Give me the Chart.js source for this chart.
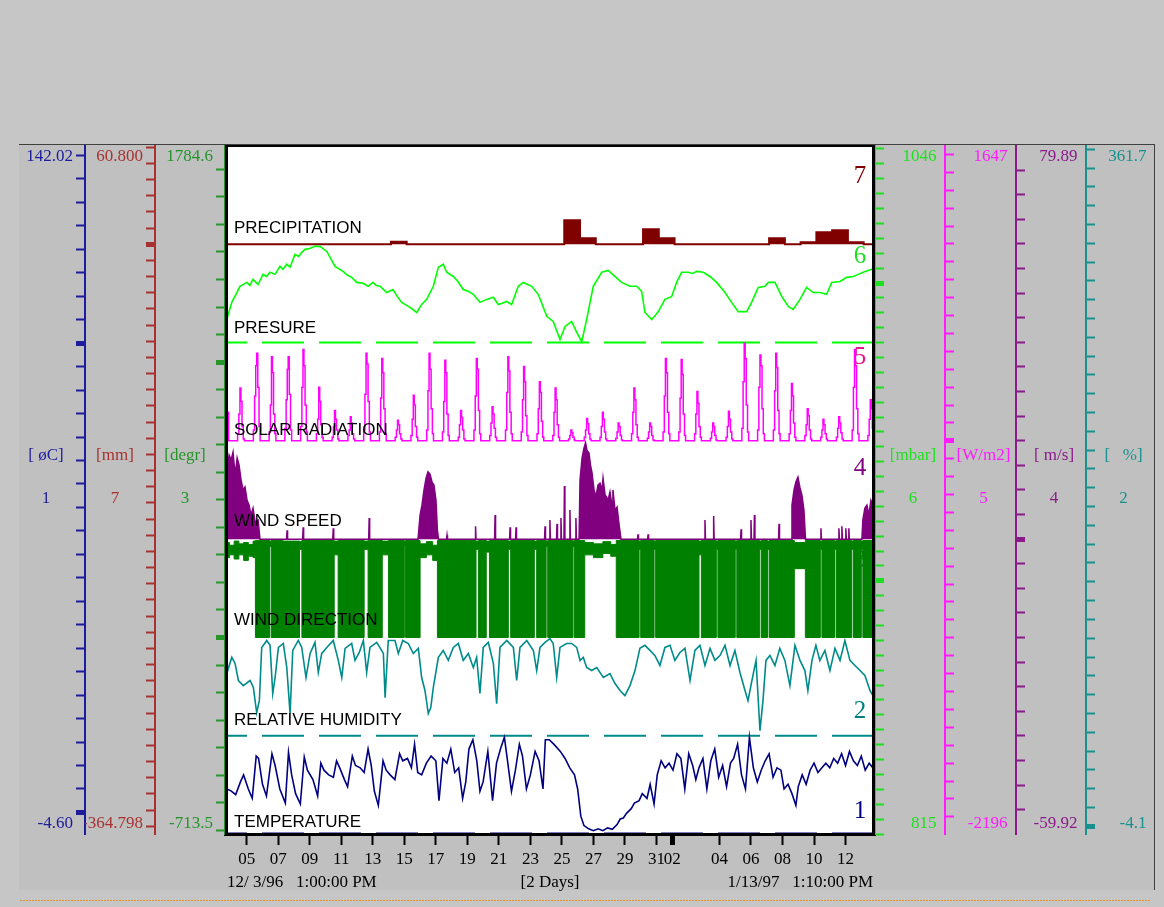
<!DOCTYPE html>
<html>
<head>
<meta charset="utf-8">
<title>Weather station 12/3/96 - 1/13/97</title>
<style>
html,body{margin:0;padding:0;background:#c0c0c0;}
#wrap{position:relative;width:1164px;height:907px;}
canvas{display:block;}
</style>
<script src="https://cdn.jsdelivr.net/npm/chart.js"></script>
</head>
<body>
<div id="wrap"><canvas id="c" width="1164" height="907"></canvas></div>
<script>
// ---- time axis: day numbers counted from 1 Dec 1996 (1 Jan 1997 = day 32)
const xTickDays   = [5,7,9,11,13,15,17,19,21,23,25,27,29,31,32,35,37,39,41,43];
const xTickLabels = ['05','07','09','11','13','15','17','19','21','23','25','27','29','31','02','04','06','08','10','12'];
const footerTexts = ['12/ 3/96   1:00:00 PM', '[2 Days]', '1/13/97   1:10:00 PM'];

// ---- channels, numbered 1..7 from the bottom band up
const bandTitles  = ['TEMPERATURE','RELATIVE HUMIDITY','WIND DIRECTION','WIND SPEED','SOLAR RADIATION','PRESURE','PRECIPITATION'];
const bandNumbers = ['1','2','3','4','5','6','7'];
const axisIds     = ['yTemp','yHum','yDir','ySpeed','ySolar','yPres','yPrec'];
const axisMin     = [-4.60, -4.1, -713.5, -59.92, -2196, 815, -364.798];
const axisMax     = [142.02, 361.7, 1784.6, 79.89, 1647, 1046, 60.800];
const axisTopText = ['142.02','361.7','1784.6','79.89','1647','1046','60.800'];
const axisBottomText = ['-4.60','-4.1','-713.5','-59.92','-2196','815','-364.798'];
const axisUnits   = ['[ øC]','[   %]','[degr]','[ m/s]','[W/m2]','[mbar]','[mm]'];
const axisStep    = [5, 10, 100, 5, 100, 5, 10];
const axisBold    = [[0,100],[0],[0,1000],[0],[0],[900,1000],[0]];

// ---- 7: precipitation, daily totals [mm]
const precipDays = [3.62,14.15,15.15,25.15,26.15,27.15,30.15,31.15,32.15,38.15,39.15,40.15,41.15,42.15,43.15,44.15,44.87];
const precipMm   = [0,1.5,0,14.9,3.7,0,9.3,3.7,0,3.7,0,1.2,7.4,8.7,1.2,0,0];

// ---- 6: pressure [mbar]
const pressureDays = [
 3.62,3.73,4.05,4.3,4.57,5.0,5.2,5.40,5.72,6.03,
 6.25,6.48,6.80,7.11,7.3,7.54,7.75,8.06,8.3,8.49,
 8.70,9.0,9.33,9.65,10.08,10.35,10.60,11.11,11.4,11.66,
 11.98,12.38,12.70,13.01,13.2,13.46,13.88,14.28,14.55,14.83,
 15.36,15.79,16.10,16.42,16.84,17.16,17.47,17.69,18.11,18.4,
 18.74,19.05,19.38,19.80,20.23,20.65,20.96,21.2,21.50,21.81,
 22.23,22.55,23.08,23.50,24.04,24.45,24.88,25.20,25.62,25.94,
 26.26,26.57,26.99,27.53,27.94,28.36,28.79,29.32,29.75,30.06,
 30.27,30.70,31.12,31.54,31.97,32.28,32.60,33.02,33.3,33.55,
 33.97,34.40,34.82,35.35,35.77,36.19,36.73,37.04,37.46,37.89,
 38.10,38.52,38.95,39.37,39.68,40.11,40.53,40.95,41.37,41.80,
 42.12,42.65,43.07,43.49,43.8,44.12,44.66,44.87];
const pressureMbar = [
 986.5,987.7,993.5,996.0,998.9,1000.2,999.2,1001.2,999.5,1002.9,
 1002.2,1003.6,1002.9,1005.6,1004.6,1006.3,1005.3,1009.6,1008.9,1010.3,
 1011.3,1011.6,1012.3,1012.3,1010.6,1008.0,1005.6,1003.9,1002.6,1001.9,
 1000.2,999.9,998.9,1000.2,999.2,998.9,996.8,997.8,995.5,993.5,
 991.8,990.1,992.8,994.5,998.9,1005.3,1006.3,1003.6,1002.2,1000.5,
 997.8,997.2,996.2,993.5,994.5,995.2,992.8,993.2,993.8,992.8,
 998.9,1000.2,998.9,996.2,988.8,987.1,981.0,985.4,987.1,983.4,
 980.3,987.7,998.9,1003.6,1004.2,1002.2,1000.2,998.9,998.9,997.2,
 990.1,987.7,990.4,994.5,995.5,1000.2,1003.6,1003.6,1003.2,1003.9,
 1003.6,1002.2,1000.2,996.8,993.5,990.4,990.4,993.5,998.5,998.9,
 1000.2,1000.2,995.5,992.1,991.1,994.5,998.5,996.8,996.8,996.2,
 1000.2,1000.5,1001.9,1002.2,1002.9,1003.6,1004.6,1005.0];

// ---- 5: solar radiation [W/m2], six readings around each midday
const solarDates = [3,4,5,6,7,8,9,10,11,12,13,14,15,16,17,18,19,20,21,22,23,24,25,26,27,28,29,30,31,32,33,34,35,36,37,38,39,40,41,42,43,44];
const solarFractions = [0.42,0.50,0.57,0.63,0.70,0.78];
const solarWm2 = [
 [80,180,260,200,140,160],[40,150,295,220,80,10],[60,250,420,490,300,80],[50,200,470,380,150,40],
 [70,230,400,470,260,60],[80,300,510,420,200,50],[40,120,300,220,90,20],[20,80,170,120,60,10],
 [30,60,135,100,40,10],[60,260,490,430,220,50],[50,240,460,380,180,40],[20,60,115,90,40,10],
 [30,120,255,200,80,20],[60,280,490,400,180,40],[50,220,450,380,150,30],[20,90,170,130,60,10],
 [60,250,460,400,170,40],[30,100,190,150,70,20],[60,270,470,390,160,40],[50,230,415,330,140,30],
 [40,180,330,270,110,20],[30,160,295,230,90,20],[10,30,60,45,20,5],[20,60,125,95,40,10],
 [20,80,160,120,50,10],[15,50,100,80,30,5],[40,160,295,230,90,20],[15,50,100,80,30,5],
 [50,250,460,380,160,40],[50,240,455,370,150,30],[40,150,275,210,80,20],[15,50,100,80,30,5],
 [20,80,165,120,50,10],[70,330,545,460,200,50],[60,300,480,420,180,40],[60,280,490,410,170,40],
 [40,170,320,250,100,20],[30,90,180,140,60,10],[20,60,120,90,40,10],[20,70,135,100,45,10],
 [60,300,510,420,180,40],[30,120,230,180,70,20]];

// ---- 4: wind speed [m/s]
const windDays = [
 3.62,3.75,3.88,4.01,4.13,4.26,4.39,4.51,4.64,4.77,
 4.89,5.02,5.15,5.27,5.40,5.53,5.72,5.84,7.53,7.56,
 7.59,8.55,8.58,8.61,10.46,10.49,10.52,12.74,12.77,12.80,
 15.87,16.0,16.12,16.25,16.38,16.5,16.63,16.76,16.88,17.01,
 17.1,17.17,17.68,17.71,17.74,19.49,19.52,19.55,20.73,20.76,
 20.79,21.68,21.71,21.74,22.06,22.09,22.12,23.9,23.93,23.96,
 24.21,24.24,24.27,24.66,24.69,24.72,24.91,24.94,24.97,25.13,
 25.16,25.19,25.48,25.51,25.54,25.86,25.89,25.92,26.09,26.15,
 26.28,26.4,26.5,26.59,26.72,26.81,26.91,27.04,27.16,27.29,
 27.42,27.55,27.61,27.74,27.83,27.93,28.05,28.18,28.24,28.37,
 28.5,28.63,28.75,29.8,29.83,29.86,30.44,30.47,30.5,34.05,
 34.08,34.11,34.6,34.63,34.66,36.34,36.37,36.4,36.97,37.0,
 37.03,37.19,37.22,37.25,38.75,38.78,38.81,39.54,39.6,39.73,
 39.85,39.98,40.11,40.23,40.36,40.46,41.41,41.44,41.47,42.55,
 42.58,42.61,42.74,42.77,42.8,42.99,43.02,43.05,43.18,43.21,
 43.24,44.04,44.1,44.23,44.36,44.48,44.61,44.74,44.87];
const windMs = [
 14.0,14.1,17.1,16.1,17.7,13.0,16.5,15.1,12.0,10.0,
 10.6,7.9,6.9,4.9,6.3,3.5,3.9,0,0,1.8,
 0,0,2.4,0,0,2.2,0,0,4.3,0,
 0,4.9,6.9,10.0,12.4,13.7,13.2,11.6,11.0,7.9,
 1.8,0,0,0.8,0,0,2.6,0,0,4.9,
 0,0,2.4,0,0,2.4,0,0,2.6,0,
 0,3.9,0,0,3.1,0,0,4.3,0,0,
 10.8,0,0,5.9,0,0,4.3,0,0,12.0,
 16.5,18.5,19.6,18.1,17.5,15.1,13.5,10.0,8.6,11.0,
 11.4,10.0,12.4,9.0,8.6,7.9,9.6,6.9,10.0,5.9,
 6.5,2.9,0,0,1.0,0,0,1.0,0,0,
 3.9,0,0,4.7,0,0,2.0,0,0,3.9,
 0,0,4.9,0,0,3.1,0,0,6.9,10.0,
 11.6,12.6,10.4,9.0,5.9,0,0,2.2,0,0,
 2.2,0,0,2.6,0,0,2.2,0,0,2.2,
 0,0,3.9,6.3,6.9,4.9,7.9,6.9,6.5];

// ---- 3: wind direction [degr], swept range per interval (upper / lower)
const dirDays = [
 3.62,3.9,4.2,4.5,4.8,5.1,5.4,5.55,6.45,6.55,
 7.3,8.35,8.5,10.55,10.8,12.45,12.7,13.6,14.0,15.0,
 15.08,16.0,16.4,16.8,17.1,19.55,19.7,20.2,20.4,21.6,
 21.75,23.25,23.4,24.0,24.1,25.7,25.78,26.45,27.0,27.6,
 28.1,28.45,29.9,30.0,30.85,30.95,33.7,33.85,34.8,34.9,
 36.0,36.1,37.55,37.65,38.05,38.15,39.75,40.45,41.4,41.5,
 42.3,42.4,43.4,43.5,44.0,44.1,44.87];
const dirHigh = [
 345,335,350,340,345,338,350,352,350,352,
 350,348,352,350,352,350,352,350,352,350,
 352,340,348,335,352,350,352,350,352,350,
 352,350,352,350,352,350,352,345,340,348,
 338,352,350,352,350,352,350,352,350,352,
 350,352,350,352,350,352,345,352,350,352,
 350,352,350,352,350,352,352];
const dirLow = [
 290,300,285,300,280,295,290,0,330,0,
 0,320,0,300,0,320,0,300,0,330,
 0,290,300,280,0,320,0,310,0,320,
 0,320,0,330,0,330,0,300,290,305,
 295,0,320,0,320,0,300,0,320,0,
 320,0,320,0,320,0,250,0,320,0,
 320,0,320,0,320,0,0];

// ---- 2: relative humidity [%]
const humDays = [
 3.62,3.73,4.05,4.26,4.47,4.78,5.21,5.42,5.63,5.80,
 5.95,6.27,6.48,6.65,6.80,7.01,7.32,7.54,7.75,7.92,
 8.27,8.49,8.76,9.02,9.33,9.54,9.76,10.08,10.49,10.81,
 11.03,11.24,11.66,11.87,12.14,12.40,12.61,12.82,13.25,13.67,
 13.78,13.98,14.41,14.62,14.90,15.25,15.57,15.89,16.10,16.31,
 16.52,16.68,16.84,17.16,17.47,17.79,18.11,18.43,18.74,19.06,
 19.38,19.59,19.80,20.01,20.33,20.65,20.86,21.07,21.50,21.92,
 22.13,22.34,22.77,23.19,23.40,23.61,23.93,24.24,24.45,24.67,
 24.88,25.30,25.62,25.94,26.15,26.36,26.57,26.89,27.21,27.63,
 28.05,28.37,28.69,29.0,29.32,29.64,29.95,30.27,30.59,30.90,
 31.22,31.54,31.86,32.17,32.49,32.81,33.13,33.44,33.76,34.08,
 34.40,34.71,35.03,35.35,35.67,35.98,36.30,36.62,36.81,37.06,
 37.32,37.57,37.76,37.95,38.20,38.52,38.83,39.15,39.47,39.79,
 40.11,40.42,40.61,40.87,41.12,41.37,41.69,42.01,42.33,42.65,
 42.96,43.28,43.60,43.92,44.23,44.55,44.74,44.87];
const humPct = [
 80.0,81.2,89.8,86.6,77.5,74.8,77.5,73.8,60.4,66.8,
 95.1,98.8,96.2,70.6,79.1,95.1,97.2,84.4,59.9,93.5,
 98.8,95.1,79.1,91.9,97.8,81.8,91.9,95.1,98.8,88.2,
 79.1,94.6,97.2,88.2,92.4,98.8,81.8,95.1,97.8,91.9,
 68.4,98.8,98.8,91.9,98.8,97.2,91.9,94.6,79.1,72.2,
 59.9,63.1,73.8,89.8,93.5,88.2,95.1,97.2,88.2,91.9,
 84.4,89.8,70.6,95.1,97.8,86.6,65.2,95.1,98.8,95.1,
 77.5,95.1,98.8,93.5,82.8,95.1,97.8,99.8,97.2,79.1,
 95.1,97.2,97.2,95.1,88.2,89.8,84.4,82.8,84.4,79.1,
 81.2,75.9,72.2,69.5,74.8,82.8,94.6,96.2,93.5,90.8,
 85.5,95.1,96.2,88.2,92.4,94.6,77.5,93.5,96.2,85.5,
 94.6,88.2,90.8,96.2,85.5,93.5,81.8,72.2,66.8,77.5,
 88.2,50.8,66.8,88.2,90.8,85.5,94.6,88.2,74.8,96.2,
 88.2,82.8,72.2,88.2,96.2,88.2,93.5,82.8,94.6,88.2,
 98.8,88.2,85.5,82.8,80.2,72.2,69.5,69.0];

// ---- 1: air temperature [degC]
const tempDays = [
 3.62,3.75,4.0,4.3,4.6,4.8,5.1,5.35,5.6,5.75,
 6.0,6.25,6.6,6.8,7.1,7.45,7.65,7.85,8.1,8.4,
 8.65,8.85,9.2,9.5,9.7,9.9,10.2,10.5,10.7,10.9,
 11.2,11.4,11.7,11.9,12.2,12.45,12.7,12.9,13.1,13.35,
 13.65,13.85,14.1,14.4,14.7,14.9,15.2,15.45,15.65,15.85,
 16.1,16.4,16.7,17.0,17.2,17.45,17.7,17.95,18.2,18.45,
 18.7,18.9,19.1,19.35,19.6,19.8,20.0,20.3,20.6,20.85,
 21.1,21.35,21.55,21.8,22.05,22.3,22.5,22.75,23.0,23.3,
 23.55,23.8,23.95,24.2,24.5,24.9,25.2,25.5,25.8,26.0,
 26.2,26.4,26.7,27.0,27.3,27.6,27.9,28.2,28.5,28.7,
 28.9,29.1,29.4,29.6,29.9,30.1,30.4,30.6,30.85,31.05,
 31.3,31.55,31.8,32.05,32.3,32.55,32.8,33.05,33.3,33.5,
 33.7,33.95,34.2,34.45,34.7,34.95,35.2,35.45,35.7,35.9,
 36.15,36.4,36.65,36.9,37.15,37.4,37.65,37.9,38.15,38.4,
 38.65,38.9,39.1,39.35,39.6,39.85,40.0,40.25,40.5,40.75,
 41.0,41.25,41.5,41.75,42.0,42.25,42.5,42.75,43.0,43.25,
 43.5,43.75,44.0,44.25,44.5,44.74,44.87];
const tempC = [
 5.0,5.0,4.6,3.8,6.5,8.0,5.0,3.0,12.0,11.5,
 6.0,3.5,12.5,10.0,5.0,2.0,12.8,8.0,4.0,1.8,
 11.8,9.0,7.0,3.5,10.5,9.0,8.0,7.5,11.0,9.5,
 7.0,5.5,12.0,10.0,9.5,8.5,13.5,10.0,4.5,1.5,
 11.0,9.0,8.0,7.0,12.5,11.0,11.5,9.5,14.5,8.5,
 8.0,10.5,12.0,11.0,2.5,11.5,10.5,13.5,8.5,9.5,
 3.0,6.5,13.5,15.5,11.0,4.5,6.5,13.0,2.5,10.5,
 13.5,16.0,11.0,4.5,9.0,14.5,12.0,5.0,8.0,13.0,
 11.0,5.0,15.5,15.5,14.5,13.0,11.5,9.5,8.0,5.0,
 -0.8,-2.8,-3.5,-3.9,-3.5,-3.9,-3.3,-3.6,-2.6,-1.4,
 -1.2,-0.2,0.8,2.0,2.5,4.0,3.0,6.0,1.8,8.0,
 11.0,9.5,10.5,9.0,12.5,11.5,5.0,12.5,10.0,7.0,
 9.5,11.5,5.0,11.0,13.5,7.5,10.0,5.5,10.5,11.5,
 14.5,8.0,5.0,16.0,9.5,6.5,9.0,11.0,12.5,7.5,
 9.5,9.0,5.0,6.0,4.0,1.5,5.5,8.0,6.0,9.0,
 10.5,8.5,9.5,10.5,9.5,11.5,10.5,12.5,10.0,13.0,
 11.0,10.0,12.0,9.0,10.5,9.5,9.5];

// ================= drawing =================
const X_MIN = 3.62, X_MAX = 44.87;
const serif = 'Liberation Serif';
const sans = 'Liberation Sans';

// per-axis look: side, stacking weight, box width, colour
const axisLook = {
  yTemp:  {side:'left',  weight:2, width:68, color:'#1c1c9c'},
  yPrec:  {side:'left',  weight:1, width:70, color:'#a83232'},
  yDir:   {side:'left',  weight:0, width:70, color:'#24962a'},
  yPres:  {side:'right', weight:0, width:70, color:'#1ee01e'},
  ySolar: {side:'right', weight:1, width:71, color:'#ff1cff'},
  ySpeed: {side:'right', weight:2, width:70, color:'#8a1a8a'},
  yHum:   {side:'right', weight:3, width:69, color:'#17928f'}
};
const numberColors = ['#000080','#008080','#008000','#800080','#e8188c','#22dd22','#800000'];

const zip = (xs, ys) => xs.map((x, i) => ({x, y: ys[i]}));

function buildYAxis(i) {
  const id = axisIds[i], look = axisLook[id];
  const min = axisMin[i], max = axisMax[i], step = axisStep[i], span = max - min;
  const pad = look.side === 'right' ? '  ' : '';
  return {
    type: 'linear', position: look.side, weight: look.weight, min, max,
    afterBuildTicks(scale) {
      const ticks = [
        {value: max - span * 0.016, text: axisTopText[i] + pad, kind: 'label'},
        {value: min + span * 0.0145, text: axisBottomText[i] + pad, kind: 'label'}
      ];
      for (let k = Math.ceil(min / step); k * step <= max; k++) {
        const v = k * step;
        ticks.push({value: v, text: '', kind: axisBold[i].includes(v) ? 'bold' : 'minor'});
      }
      ticks.sort((a, b) => a.value - b.value);
      scale.ticks = ticks;
    },
    afterFit(scale) { scale.width = look.width; },
    ticks: {
      autoSkip: false, color: look.color, padding: 3,
      crossAlign: look.side === 'left' ? 'near' : 'far',
      font: {family: serif, size: 17},
      callback: (v, idx, ticks) => ticks[idx].text
    },
    grid: {
      drawOnChartArea: false, tickLength: 9,
      tickWidth: c => (c.tick && c.tick.kind === 'bold') ? 5 : 2,
      tickColor: c => (c.tick && c.tick.kind === 'label') ? 'rgba(0,0,0,0)' : look.color
    },
    border: {color: look.color, width: 2}
  };
}

const scales = {
  x: {
    type: 'linear', position: 'bottom', min: X_MIN, max: X_MAX,
    afterBuildTicks(scale) {
      scale.ticks = xTickDays.map((d, i) => ({value: d, text: xTickLabels[i], bold: d === 32}));
    },
    afterFit(scale) { scale.height = 40; },
    ticks: {
      autoSkip: false, maxRotation: 0, minRotation: 0, color: '#000', padding: 4,
      font: {family: serif, size: 17},
      callback: (v, idx, ticks) => ticks[idx].text
    },
    grid: {
      drawOnChartArea: false, tickLength: 11, tickColor: '#000',
      tickWidth: c => (c.tick && c.tick.bold) ? 5 : 2
    },
    border: {color: '#000', width: 3}
  }
};
axisIds.forEach((id, i) => { scales[id] = buildYAxis(i); });

// solar readings placed at their time of day, zero at night
const solarPoints = [];
solarDates.forEach((d, i) => {
  solarPoints.push({x: d + 0.36, y: 0});
  solarFractions.forEach((f, j) => solarPoints.push({x: d + f, y: solarWm2[i][j]}));
  solarPoints.push({x: d + 0.85, y: 0});
});
solarPoints.push({x: X_MAX, y: 0});

// lower edge of a channel's band on its own axis
const bandFloor = (axisIndex) => {
  const span = axisMax[axisIndex] - axisMin[axisIndex];
  return axisMin[axisIndex] + span * axisIndex / 7;
};
const floorLine = (axisIndex) => [{x: X_MIN, y: bandFloor(axisIndex)}, {x: X_MAX, y: bandFloor(axisIndex)}];

const datasets = [
  {label: 'Temperature', yAxisID: 'yTemp', data: zip(tempDays, tempC), borderColor: '#000080', borderWidth: 1.6},
  {label: 'Temperature base', yAxisID: 'yTemp', data: floorLine(0),
   borderColor: '#000080', borderWidth: 3, borderDash: [42, 15], borderDashOffset: 20},
  {label: 'Relative humidity', yAxisID: 'yHum', data: zip(humDays, humPct), borderColor: '#008b8b', borderWidth: 1.6},
  {label: 'Humidity base', yAxisID: 'yHum', data: floorLine(1),
   borderColor: '#008b8b', borderWidth: 2, borderDash: [42, 15], borderDashOffset: 20},
  {label: 'Wind direction', yAxisID: 'yDir', data: zip(dirDays, dirHigh), stepped: true,
   borderColor: '#008000', backgroundColor: '#008000', borderWidth: 1, fill: '+1'},
  {label: 'Wind direction low', yAxisID: 'yDir', data: zip(dirDays, dirLow), stepped: true,
   borderColor: '#008000', borderWidth: 1},
  {label: 'Wind speed', yAxisID: 'ySpeed', data: zip(windDays, windMs),
   borderColor: '#800080', backgroundColor: '#800080', borderWidth: 1.5, fill: {value: 0}},
  {label: 'Solar radiation', yAxisID: 'ySolar', data: solarPoints, stepped: true,
   borderColor: '#ff00ff', borderWidth: 1.5},
  {label: 'Pressure', yAxisID: 'yPres', data: zip(pressureDays, pressureMbar), borderColor: '#00ff00', borderWidth: 1.6},
  {label: 'Pressure base', yAxisID: 'yPres', data: floorLine(5),
   borderColor: '#00ff00', borderWidth: 2, borderDash: [42, 15], borderDashOffset: 20},
  {label: 'Precipitation', yAxisID: 'yPrec', data: zip(precipDays, precipMm), stepped: true,
   borderColor: '#800000', backgroundColor: '#800000', borderWidth: 2, fill: {value: 0}}
];

// panel background, white plot area, band numbers underneath the data
const backdrop = {
  id: 'backdrop',
  beforeDraw(chart) {
    const {ctx, chartArea: a} = chart;
    ctx.save();
    ctx.fillStyle = '#c6c6c6';
    ctx.fillRect(0, 0, chart.width, chart.height);
    ctx.fillStyle = '#c0c0c0';
    ctx.fillRect(19, 145, 1136, 745);
    ctx.fillStyle = '#404040';
    ctx.fillRect(19, 144, 1136, 1);
    ctx.fillRect(1154, 144, 1, 746);
    // dotted rule along the foot of the page
    ctx.fillStyle = '#e8902c';
    for (let x = 20; x < 1150; x += 3) ctx.fillRect(x, 900, 2, 1);
    ctx.fillStyle = '#ffffff';
    ctx.fillRect(a.left, a.top, a.right - a.left, a.bottom - a.top);
    ctx.restore();
  },
  beforeDatasetsDraw(chart) {
    const {ctx, chartArea: a} = chart;
    const bandH = (a.bottom - a.top) / 7;
    const topOffsets = [76, 74, 21, 28, 15, 12, 30];
    ctx.save();
    ctx.font = '25px "' + serif + '"';
    ctx.textAlign = 'center';
    ctx.textBaseline = 'middle';
    bandNumbers.forEach((n, k) => {
      const bandTop = a.top + (6 - k) * bandH;
      ctx.fillStyle = numberColors[k];
      ctx.fillText(n, a.right - 15, bandTop + topOffsets[k]);
    });
    ctx.restore();
  },
  afterDatasetsDraw(chart) {
    const {ctx, chartArea: a} = chart;
    const bandH = (a.bottom - a.top) / 7;
    const floorOffsets = [12, 15, 17, 18, 11, 14, 16];
    ctx.save();
    ctx.font = '17px "' + sans + '"';
    ctx.fillStyle = '#000';
    ctx.textAlign = 'left';
    ctx.textBaseline = 'middle';
    bandTitles.forEach((t, k) => {
      const bandBottom = a.bottom - k * bandH;
      ctx.fillText(t, a.left + 9, bandBottom - floorOffsets[k]);
    });
    ctx.restore();
  },
  afterDraw(chart) {
    const {ctx, chartArea: a} = chart;
    ctx.save();
    // plot frame
    ctx.fillStyle = '#000';
    ctx.fillRect(a.left, a.top - 1, a.right - a.left, 2);
    ctx.fillRect(a.left, a.top - 1, 3, a.bottom - a.top + 3);
    ctx.fillRect(a.right - 3, a.top - 1, 3, a.bottom - a.top + 3);
    ctx.fillRect(a.left, a.bottom - 1, a.right - a.left, 3);
    // unit and channel number in each axis column
    ctx.font = '17px "' + serif + '"';
    ctx.textAlign = 'center';
    ctx.textBaseline = 'middle';
    const h = a.bottom - a.top;
    axisIds.forEach((id, i) => {
      const s = chart.scales[id];
      const cx = axisLook[id].side === 'left' ? (s.left + s.right - 10) / 2 : (s.left + s.right + 6) / 2;
      ctx.fillStyle = axisLook[id].color;
      ctx.fillText(axisUnits[i], cx, a.top + 0.4506 * h);
      ctx.fillText(bandNumbers[i], cx, a.top + 0.513 * h);
    });
    // time span captions
    ctx.fillStyle = '#000';
    const fy = chart.scales.x.bottom + 9;
    ctx.textAlign = 'left';
    ctx.fillText(footerTexts[0], a.left + 2, fy);
    ctx.textAlign = 'center';
    ctx.fillText(footerTexts[1], (a.left + a.right) / 2, fy);
    ctx.textAlign = 'right';
    ctx.fillText(footerTexts[2], a.right - 2, fy);
    ctx.restore();
  }
};

new Chart(document.getElementById('c'), {
  type: 'line',
  data: {datasets},
  options: {
    responsive: false, animation: false, devicePixelRatio: 1,
    parsing: false, normalized: true,
    layout: {padding: {left: 17, right: 9, top: 146, bottom: 33}},
    elements: {point: {radius: 0, hoverRadius: 0}, line: {tension: 0}},
    plugins: {legend: {display: false}, tooltip: {enabled: false}},
    events: [],
    scales
  },
  plugins: [backdrop]
});
</script>
</body>
</html>
